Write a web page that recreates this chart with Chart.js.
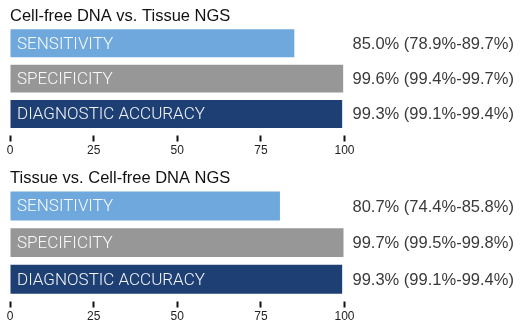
<!DOCTYPE html>
<html>
<head>
<meta charset="utf-8">
<script src="https://cdn.jsdelivr.net/npm/chart.js@4.4.0/dist/chart.umd.min.js"></script>
<style>
  html, body { margin: 0; padding: 0; background: #fff; }
  .panel { position: relative; width: 523px; }
</style>
</head>
<body>
<div class="panel" style="height:162px"><canvas id="chart-top"></canvas></div>
<div class="panel" style="height:166px"><canvas id="chart-bottom"></canvas></div>
<script>
"use strict";

// categories and values
const metrics = ["SENSITIVITY", "SPECIFICITY", "DIAGNOSTIC ACCURACY"];
const barColors = ["#6fa8dc", "#979797", "#1d3f74"];
const xTicks = [0, 25, 50, 75, 100];

// Cell-free DNA vs. Tissue NGS
const cfdnaValues = [85.0, 99.6, 99.3];
const cfdnaLow = [78.9, 99.4, 99.1];
const cfdnaHigh = [89.7, 99.7, 99.4];

// Tissue vs. Cell-free DNA NGS
const tissueValues = [80.7, 99.7, 99.3];
const tissueLow = [74.4, 99.5, 99.1];
const tissueHigh = [85.8, 99.8, 99.4];

const FONT = "'Liberation Sans', Arial, sans-serif";
Chart.defaults.font.family = FONT;

// labels inside the bars and the value text to the right
const barText = {
  id: 'barText',
  afterDatasetsDraw(chart, args, opts) {
    const ctx = chart.ctx;
    const area = chart.chartArea;
    const meta = chart.getDatasetMeta(0);
    ctx.save();
    ctx.textBaseline = 'middle';
    ctx.textAlign = 'left';
    meta.data.forEach(function(bar, i) {
      ctx.font = '300 17px Roboto, ' + FONT;
      ctx.fillStyle = 'rgba(255,255,255,0.95)';
      ctx.fillText(metrics[i], area.left + 7, bar.y + 1);
      ctx.font = '16.5px ' + FONT;
      ctx.fillStyle = '#3a3a3a';
      const txt = opts.values[i].toFixed(1) + '% (' + opts.low[i].toFixed(1) + '%-' + opts.high[i].toFixed(1) + '%)';
      ctx.fillText(txt, area.right + 8, bar.y + 1);
    });
    ctx.restore();
  }
};

function makeChart(id, title, values, low, high) {
  return new Chart(document.getElementById(id), {
    type: 'bar',
    data: {
      labels: metrics,
      datasets: [{
        data: values,
        backgroundColor: barColors,
        borderWidth: 0,
        barPercentage: 0.79,
        categoryPercentage: 1
      }]
    },
    options: {
      indexAxis: 'y',
      responsive: true,
      maintainAspectRatio: false,
      animation: false,
      layout: { padding: { left: 10, right: 178.5, top: 0, bottom: 2 } },
      scales: {
        x: {
          min: 0,
          max: 100,
          afterBuildTicks: function(axis) {
            axis.ticks = xTicks.map(function(v) { return { value: v }; });
          },
          border: { display: false },
          grid: {
            drawOnChartArea: false,
            drawTicks: true,
            tickLength: 10,
            tickWidth: 2,
            tickColor: '#111',
            tickBorderDash: [0, 3.5, 7, 30]
          },
          ticks: {
            color: '#222',
            font: { size: 12 },
            padding: 2,
            maxRotation: 0,
            autoSkip: false
          }
        },
        y: { display: false }
      },
      plugins: {
        legend: { display: false },
        tooltip: { enabled: false },
        title: {
          display: true,
          text: title,
          align: 'start',
          color: '#111',
          font: { size: 16.5, weight: 'normal', lineHeight: 1.1 },
          padding: { top: 7.5, bottom: 0 }
        },
        barText: { values: values, low: low, high: high }
      }
    },
    plugins: [barText]
  });
}

makeChart('chart-top', 'Cell-free DNA vs. Tissue NGS', cfdnaValues, cfdnaLow, cfdnaHigh);
makeChart('chart-bottom', 'Tissue vs. Cell-free DNA NGS', tissueValues, tissueLow, tissueHigh);
</script>
</body>
</html>
